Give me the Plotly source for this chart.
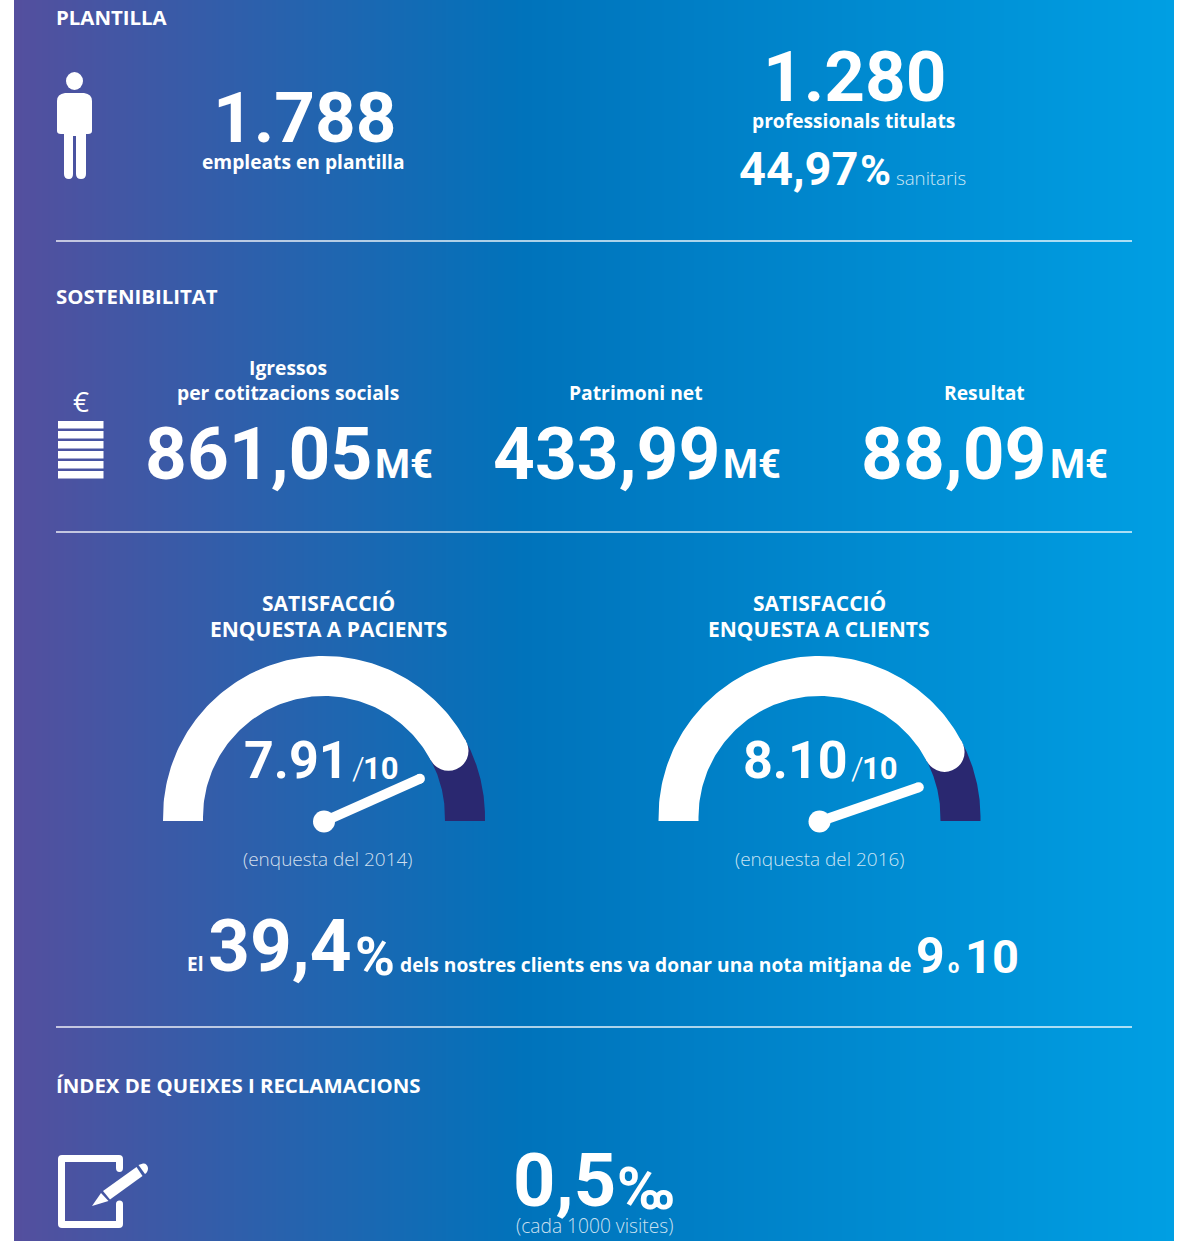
import numpy as np
import plotly.graph_objects as go

W, H = 1178, 1241
SECTION_TITLES = ["PLANTILLA", "SOSTENIBILITAT", "ÍNDEX DE QUEIXES I RECLAMACIONS"]
EMPLOYEES = "1.788"
GRADUATES = "1.280"
HEALTH_SHARE = "44,97"
FINANCE_LABELS = ["Igressos<br>per cotitzacions socials", "Patrimoni net", "Resultat"]
FINANCE_VALUES = ["861,05", "433,99", "88,09"]
GAUGE_TITLES = ["SATISFACCIÓ<br>ENQUESTA A PACIENTS", "SATISFACCIÓ<br>ENQUESTA A CLIENTS"]
GAUGE_SCORES = ["7.91", "8.10"]
GAUGE_NOTES = ["(enquesta del 2014)", "(enquesta del 2016)"]
# angles above the horizontal
ARC_END_DEG = [28, 27.5]
NEEDLE_DEG = [24, 19]
CLIENT_SHARE = "39,4"
COMPLAINTS = "0,5"

NUM = "Roboto"
SANS = "Open Sans"
WHITE = "#ffffff"
SOFT = "rgba(255,255,255,0.8)"
NAVY = "#2a2870"

fig = go.Figure()

# background gradient
edges = np.linspace(14, 1174, 581)
mids = (edges[:-1] + edges[1:]) / 2
fig.add_trace(go.Heatmap(
    x=edges, y=[0, H], z=[mids], zmin=14, zmax=1174, showscale=False, hoverinfo="skip",
    colorscale=[[0, "#544f9e"], [0.44, "#0073bb"], [1, "#009fe3"]],
))


def poly(xs, ys, color):
    fig.add_trace(go.Scatter(x=xs, y=ys, mode="lines", fill="toself", fillcolor=color,
                             line=dict(width=0, color=color), hoverinfo="skip", showlegend=False))


def arc_band(cx, cy, a0, a1, r_out=161, r_in=121, floor=821):
    t = np.radians(np.linspace(a0, a1, 120))
    xo, yo = cx + r_out * np.cos(t), cy - r_out * np.sin(t)
    xi, yi = cx + r_in * np.cos(t), cy - r_in * np.sin(t)
    if a0 == 180:
        xs = np.r_[cx - r_out, xo, xi[::-1], cx - r_in]
        ys = np.r_[floor, yo, yi[::-1], floor]
    else:
        xs = np.r_[xo, cx + r_out, cx + r_in, xi[::-1]]
        ys = np.r_[yo, floor, floor, yi[::-1]]
    return xs, ys


for cx, arc_end, needle in zip([324, 819.5], ARC_END_DEG, NEEDLE_DEG):
    cy = 817
    xs, ys = arc_band(cx, cy, arc_end + 2, 0)
    poly(xs, ys, NAVY)
    xs, ys = arc_band(cx, cy, 180, arc_end)
    poly(xs, ys, WHITE)
    t = np.radians(arc_end)
    fig.add_trace(go.Scatter(x=[cx + 141 * np.cos(t)], y=[cy - 141 * np.sin(t)], mode="markers",
                             marker=dict(size=40, color=WHITE, opacity=1, line=dict(width=0)),
                             hoverinfo="skip", showlegend=False))
    n = np.radians(needle)
    tip = (cx + 105 * np.cos(n), 821.5 - 105 * np.sin(n))
    fig.add_trace(go.Scatter(x=[cx, tip[0]], y=[821.5, tip[1]], mode="lines",
                             line=dict(width=10, color=WHITE), hoverinfo="skip", showlegend=False))
    fig.add_trace(go.Scatter(x=[cx, tip[0]], y=[821.5, tip[1]], mode="markers",
                             marker=dict(size=[22, 10], color=WHITE, opacity=1, line=dict(width=0)),
                             hoverinfo="skip", showlegend=False))

ann = []


def txt(x, y, s, size, font=SANS, weight=700, color=WHITE, anchor="center"):
    if font == SANS:
        y -= 1
    ann.append(dict(x=x, y=y, xref="x", yref="y", text=s, showarrow=False, xanchor=anchor,
                    yanchor="middle", align="center", borderpad=0, borderwidth=0,
                    font=dict(family=font, size=size, color=color, weight=weight)))


# section titles
txt(56, 18, SECTION_TITLES[0], 20.4, anchor="left")
txt(56, 297, SECTION_TITLES[1], 20.4, anchor="left")
txt(56, 1086, SECTION_TITLES[2], 20.4, anchor="left")

# staff
txt(305, 117, EMPLOYEES, 71, NUM)
txt(303, 162, "empleats en plantilla", 19.2)
txt(855, 76, GRADUATES, 71, NUM)
txt(853, 121, "professionals titulats", 19.2)
txt(858, 168, HEALTH_SHARE, 47, NUM, anchor="right")
txt(860, 170, "%", 42, NUM, anchor="left")
txt(896, 178, "sanitaris", 18.7, weight=300, color=SOFT, anchor="left")

# finance
for lx, vx, label, val in zip([288, 636, 984], [372, 720, 1047], FINANCE_LABELS, FINANCE_VALUES):
    lines = label.split("<br>")
    for i, line in enumerate(lines):
        txt(lx, 393 - 25 * (len(lines) - 1 - i), line, 19.3)
    txt(vx, 454, val, 73, NUM, anchor="right")
    txt(vx + 3, 464, "M€", 40, NUM, anchor="left")
txt(81, 402, "€", 28, weight=400)

# gauges
for tx, nx, label, score, note, sx in zip([328, 819], [328, 820], GAUGE_TITLES, GAUGE_SCORES, GAUGE_NOTES, [349, 848]):
    for y, line in zip([604, 630], label.split("<br>")):
        txt(tx, y, line, 21)
    txt(sx, 760, score, 52, NUM, anchor="right")
    txt(sx + 3, 768, "/", 32, NUM, weight=300, anchor="left")
    txt(sx + 14, 768, "10", 31, NUM, anchor="left")
    txt(nx, 860, note, 19, weight=300, color=SOFT)

# client sentence
txt(203, 965, "El", 19, anchor="right")
txt(352, 946, CLIENT_SHARE, 73, NUM, anchor="right")
txt(355, 956, "%", 54, NUM, anchor="left")
txt(400, 965, "dels nostres clients ens va donar una nota mitjana de", 19.2, anchor="left")
txt(930, 956, "9", 50, NUM)
txt(953, 966, "o", 20, NUM)
txt(992, 956, "10", 47, NUM)

# complaints
txt(616, 1180, COMPLAINTS, 74, NUM, anchor="right")
txt(617, 1188, "‰", 60, NUM, anchor="left")
txt(594, 1226, "(cada 1000 visites)", 19.2, weight=300, color=SOFT)

# shapes: rules and icons
shapes = []
for y in [241, 532, 1027]:
    shapes.append(dict(type="line", x0=56, x1=1132, y0=y, y1=y, xref="x", yref="y",
                       line=dict(color="rgba(255,255,255,0.9)", width=1.5)))


def path(d, fill=WHITE):
    shapes.append(dict(type="path", path=d, xref="x", yref="y", fillcolor=fill, line=dict(width=0)))


# person
shapes.append(dict(type="circle", x0=66, x1=83, y0=72, y1=90, xref="x", yref="y", fillcolor=WHITE, line=dict(width=0)))
path("M 57 101 Q 57 94 65 93 L 84 93 Q 92 94 92 101 L 92 131 Q 92 134 88 134 L 86 134 L 86 174 "
     "Q 86 179 81 179 Q 76 179 76 174 L 76 136 L 73 136 L 73 174 Q 73 179 69 179 Q 64 179 64 174 "
     "L 64 134 L 61 134 Q 57 134 57 131 Z")
# coin stack
for top in [421, 431, 441, 451, 461, 471]:
    shapes.append(dict(type="rect", x0=58, x1=103.5, y0=top, y1=top + 7.5, xref="x", yref="y",
                       fillcolor=WHITE, line=dict(width=0)))
# edit icon
path("M 123 1168 L 123 1159 Q 123 1155 119 1155 L 62 1155 Q 58 1155 58 1159 L 58 1224 Q 58 1228 62 1228 "
     "L 119 1228 Q 123 1228 123 1224 L 123 1204 Q 123 1200.5 119.5 1200.5 Q 116 1200.5 116 1204 L 116 1221 "
     "L 65 1221 L 65 1162 L 116 1162 L 116 1168 Q 116 1172 119.5 1172 Q 123 1172 123 1168 Z")
path("M 92 1206 L 101 1193 L 108.5 1201 Z")
path("M 103 1191 L 136.5 1167 L 142.5 1176 L 110 1199.5 Z")
path("M 138.5 1165 L 143 1163.5 Q 147 1163 148 1168 Q 148 1172 145 1174 Z")

fig.update_layout(
    width=W, height=H, margin=dict(l=0, r=0, t=0, b=0), paper_bgcolor="#ffffff", plot_bgcolor="#ffffff",
    showlegend=False, annotations=ann, shapes=shapes,
    xaxis=dict(range=[0, W], visible=False, fixedrange=True),
    yaxis=dict(range=[H, 0], visible=False, fixedrange=True),
)
fig.write_html("out.html", post_script="document.body.style.margin='0';", config=dict(displayModeBar=False))
